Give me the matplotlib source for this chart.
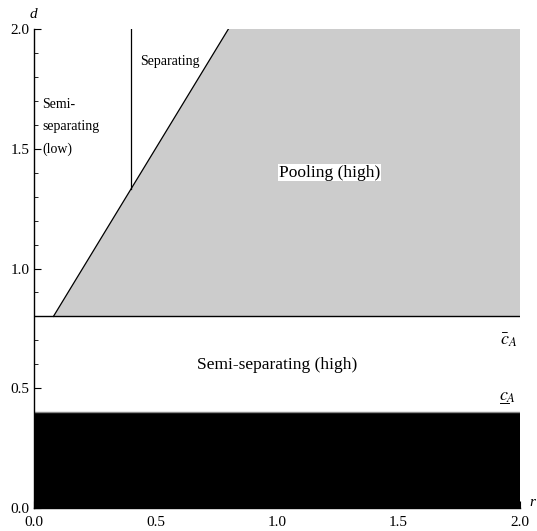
import numpy as np
import matplotlib
matplotlib.use("Agg")
import matplotlib.pyplot as plt
from matplotlib.ticker import MultipleLocator
from matplotlib.lines import Line2D

plt.rcParams['font.family'] = ['Liberation Serif', 'DejaVu Serif']
plt.rcParams['mathtext.fontset'] = 'stix'

# data
r_range = [0.0, 2.0]
c_bar = 0.8          # upper cost threshold
c_under = 0.4        # lower cost threshold
boundary_r = [0.08, 0.8]   # pooling boundary line
boundary_d = [0.8, 2.0]
r_sep = 0.4          # separating vertical boundary
d_max = 2.0
xticks = [0.0, 0.5, 1.0, 1.5, 2.0]
yticks = [0.0, 0.5, 1.0, 1.5, 2.0]

fig = plt.figure(figsize=(5.37, 5.31), dpi=100)
ax = fig.add_axes([34/537, 23/531, 486/537, 479/531])

# black region
ax.fill_between(r_range, 0, c_under, color='black', lw=0, zorder=1)
ax.plot(r_range, [c_under, c_under], color='#888888', lw=1, zorder=2)

# pooling region
poly_r = [boundary_r[0], boundary_r[1], r_range[1], r_range[1]]
poly_d = [boundary_d[0], boundary_d[1], d_max, c_bar]
ax.fill(poly_r, poly_d, color='#cccccc', lw=0, zorder=1)
ax.plot(boundary_r, boundary_d, color='black', lw=0.9, zorder=3)
ax.plot(r_range, [c_bar, c_bar], color='black', lw=1.0, zorder=3)

# separating vertical line
d_int = np.interp(r_sep, boundary_r, boundary_d)
ax.plot([r_sep, r_sep], [d_int, d_max], color='black', lw=0.9, zorder=3)

# labels
ax.text(1.215, 1.40, 'Pooling (high)', fontsize=12.5, ha='center', va='center',
        bbox=dict(facecolor='white', edgecolor='none', pad=0.5), zorder=4)
ax.text(1.0, 0.597, 'Semi-separating (high)', fontsize=12.5, ha='center', va='center', zorder=4)
ax.text(0.436, 1.866, 'Separating', fontsize=10, ha='left', va='center', zorder=4)
ax.text(0.035, 1.591, 'Semi-\nseparating\n(low)', fontsize=10, ha='left', va='center',
        linespacing=1.95, zorder=4)
ax.text(1.99, 0.70, r'$\bar{c}_A$', fontsize=13, ha='right', va='center', zorder=4)
low_lbl = ax.text(1.985, 0.447, r'$c_{A}$', fontsize=13, ha='right', va='baseline', zorder=4)

ax.set_xlim(0, 2)
ax.set_ylim(0, 2)
ax.set_xticks(xticks)
ax.set_yticks(yticks)
ax.set_xticklabels([f'{v:.1f}' for v in xticks])
ax.set_yticklabels([f'{v:.1f}' for v in yticks])
ax.xaxis.set_minor_locator(MultipleLocator(0.1))
ax.yaxis.set_minor_locator(MultipleLocator(0.1))
ax.tick_params(which='major', direction='in', length=5, width=0.8, labelsize=11)
ax.tick_params(axis='x', which='major', pad=5.5)
ax.tick_params(axis='y', which='major', pad=3)
ax.tick_params(which='minor', direction='in', length=3, width=0.6)
for s in ['top', 'right']:
    ax.spines[s].set_visible(False)
for s in ['left', 'bottom']:
    ax.spines[s].set_linewidth(1.0)
    ax.spines[s].set_zorder(5)

# underline under the "c" of the lower threshold label
fig.canvas.draw()
tmp = ax.text(0, 0, r'$c$', fontsize=13)
cw = tmp.get_window_extent().width
tmp.remove()
bb = low_lbl.get_window_extent()
base_y = ax.transData.transform((1.985, 0.447))[1]
x0 = bb.x0 + 0.3
x1 = bb.x0 + cw - 0.3
yb = base_y - 2.5
fig.add_artist(Line2D([x0 / fig.bbox.width, x1 / fig.bbox.width],
                     [yb / fig.bbox.height, yb / fig.bbox.height],
                     color='black', lw=0.7))

fig.text(33/537, 1 - 14/531, 'd', fontsize=11, style='italic', ha='center', va='center')
fig.text(532/537, 1 - 502/531, 'r', fontsize=11, style='italic', ha='center', va='center')

fig.savefig('out.png', dpi=100)
